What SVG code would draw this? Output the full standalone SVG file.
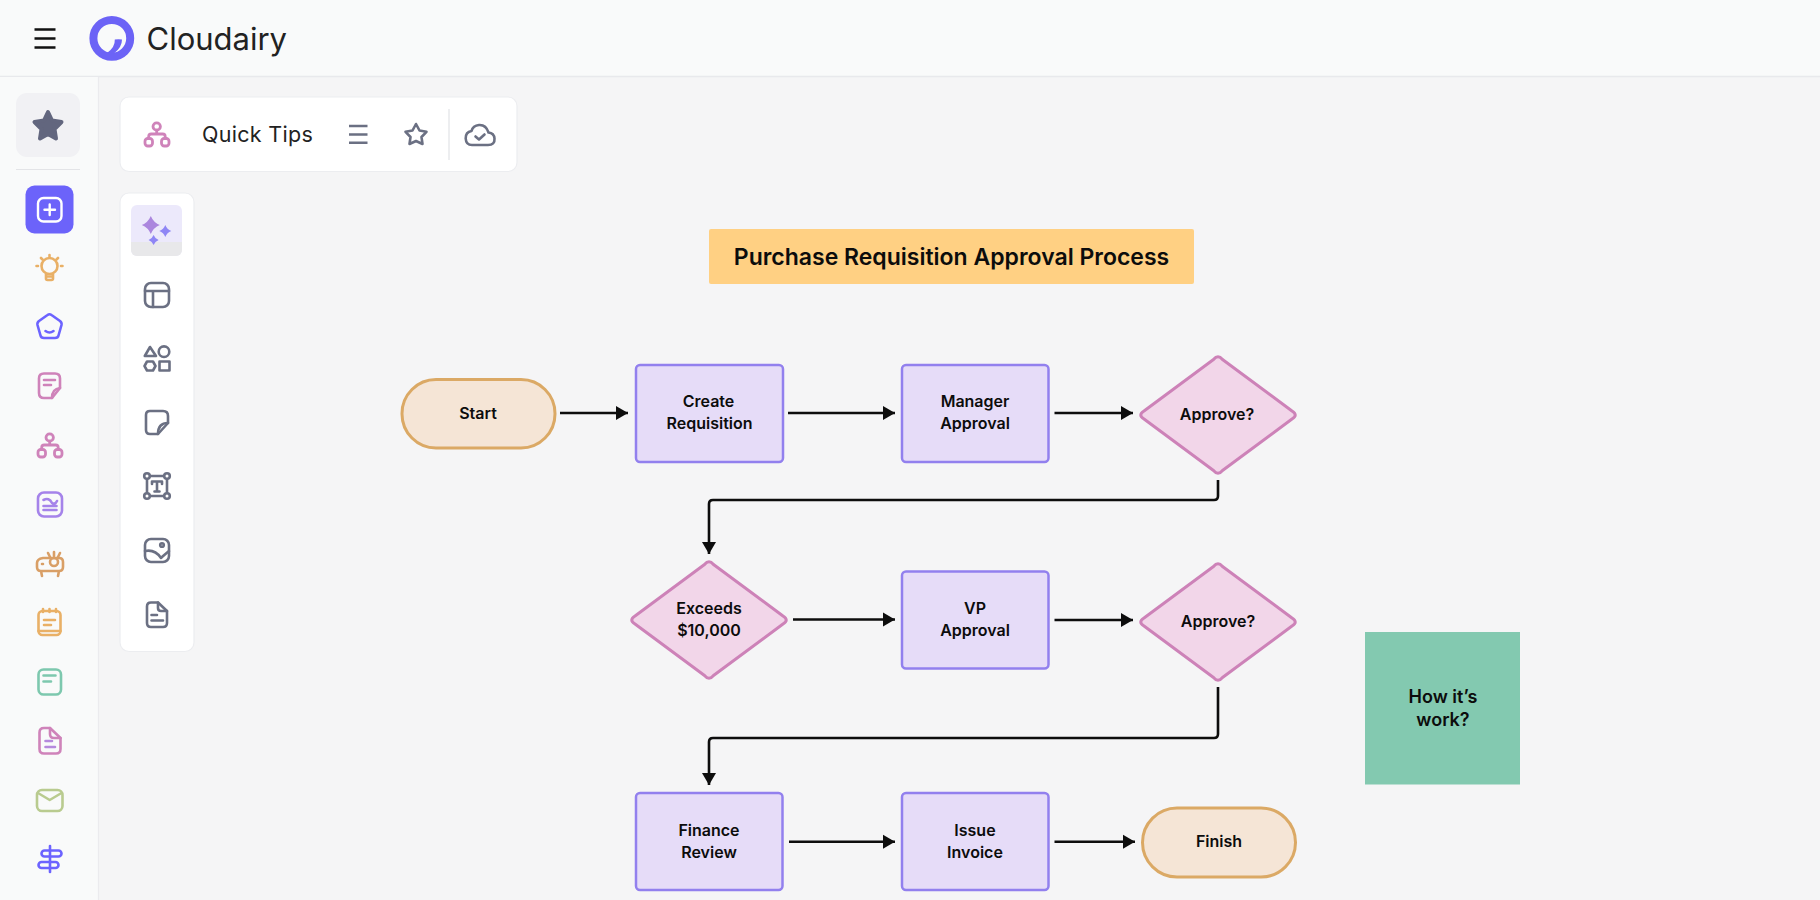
<svg xmlns="http://www.w3.org/2000/svg" width="1820" height="900" viewBox="0 0 1820 900">
<style>
text{font-family:"Inter","Liberation Sans",sans-serif;fill:#0c0c0c}
.n{font-size:16px;font-weight:600;text-anchor:middle}
.proc{fill:#e6dcf8;stroke:#9280ee;stroke-width:2.5}
.dec{fill:#f2d6e9;stroke:#cd82b8;stroke-width:3;stroke-linejoin:round}
.term{fill:#f5e5d6;stroke:#dba965;stroke-width:3}
.c{fill:none;stroke:#0d0d0d;stroke-width:2.6;stroke-linejoin:round;marker-end:url(#ah)}
.i{fill:none;stroke-width:2.6;stroke-linecap:round;stroke-linejoin:round}
.g{stroke:#6b7083}.pu{stroke:#6c63ff}.pk{stroke:#cf83ba}.vi{stroke:#a583ea}.or{stroke:#e9b066}
</style>
<defs>
<marker id="ah" markerUnits="userSpaceOnUse" markerWidth="13" markerHeight="15" refX="12" refY="7.500" orient="auto"><path d="M0 0.500L12 7.500L0 14.500Z" fill="#0d0d0d"/></marker>
<g id="org" stroke-width="2.800"><circle cx="12.700" cy="4.500" r="3.700"/><rect x="1" y="16.500" width="7.500" height="7.500" rx="2.800"/><rect x="17.500" y="16.500" width="7.500" height="7.500" rx="2.800"/><path d="M12.700 8.200V12M4.700 16.500V14.500Q4.700 12 7.200 12H18.700Q21.200 12 21.200 14.500V16.500"/></g>
<path id="dia" d="M-4.500 -55.500Q0 -61 4.500 -55.500L74 -4Q80.500 0 74 4L4.500 55.500Q0 61 -4.500 55.500L-74 4Q-80.500 0 -74 -4Z"/>
</defs>
<rect width="1820" height="900" fill="#f5f5f6"/>
<g id="topbar">
<rect width="1820" height="76" fill="#f9fafa"/>
<path d="M0 76.500H1820" stroke="#e8e9ec" stroke-width="1.500"/>
<path d="M34.500 29.500H55.500M34.500 38.500H55.500M34.500 47.500H55.500" stroke="#111" stroke-width="2.400"/>
<circle cx="111.800" cy="38.300" r="18.400" fill="none" stroke="#6c63f6" stroke-width="8"/>
<path d="M114.800 39.500Q118.500 38.800 122 39.500Q122 47 114.500 53L107 53Q115.300 47 114.800 39.500Z" fill="#6c63f6"/>
<text x="146.500" y="50" font-size="31" style="fill:#222">Cloudairy</text>
</g>
<g id="sidebar">
<rect y="77" width="98" height="823" fill="#f9fafa"/>
<path d="M98.500 77V900" stroke="#ebebee" stroke-width="1.200"/>
<rect x="16" y="93" width="64" height="64" rx="11" fill="#f1f1f4"/>
<path d="M48 112L52 120.500L61.500 122L54.500 129L56 138.500L48 134L40 138.500L41.500 129L34.500 122L44 120.500Z" fill="#62667e" stroke="#62667e" stroke-width="4" stroke-linejoin="round"/>
<path d="M16 169.500H80" stroke="#e3e4e7" stroke-width="1.200"/>
<rect x="25.500" y="185.500" width="48" height="48" rx="9" fill="#6c63fa"/>
<rect x="38" y="198" width="23.500" height="23.500" rx="5.500" fill="none" stroke="#fff" stroke-width="2.400"/>
<path d="M49.700 204.500V215M44.500 209.700H55" stroke="#fff" stroke-width="2.400" stroke-linecap="round"/>
<g class="i or"><circle cx="49.500" cy="266" r="8"/><path d="M46 274V278.500Q46 280 47.500 280H51.500Q53 280 53 278.500V274M46.500 276.500H52.500M49.500 255V256.500M38 266H36.500M62.500 266H61M41 258L42.500 259.500M58 258L56.500 259.500"/></g>
<g class="i pu"><path d="M47.500 315Q49.500 313.500 51.500 315L60 321Q62 322.500 61.500 325L58.500 335.500Q58 338 55 338H44Q41 338 40.500 335.500L37.500 325Q37 322.500 39 321Z"/><path d="M45.500 331Q49.500 334 53.500 331"/></g>
<g class="i pk"><path d="M44 373.500H55Q60 373.500 60 378.500V388L52 398H44Q39 398 39 393V378.500Q39 373.500 44 373.500Z"/><path d="M44 380H55M44 385H51M52 398Q52 389 60 388"/></g>
<use href="#org" x="37" y="433" class="i pk"/>
<g class="i vi"><rect x="38" y="492.500" width="24" height="24" rx="6"/><path d="M43.500 500Q49 497 52 503Q55 505 57 501M43.500 506H56.500M43.500 510H56.500"/></g>
<g class="i" stroke="#d99f66"><path d="M43 558H59Q63 558 63 562V567Q63 571 59 571H41Q37 571 37 567V563Q37 559 43 558ZM41 571L42 576M59 571L58 576"/><circle cx="54" cy="562" r="4"/><path d="M54 552V556M48 553L50 557M60 553L58 557M42 564H43"/></g>
<g class="i or"><rect x="38.500" y="611" width="22" height="24" rx="4"/><path d="M43 609V612M49.500 609V612M56 609V612M44 620H55M44 625H51M38.500 631H60.500"/></g>
<g class="i" stroke="#7dc8ae"><rect x="38.500" y="669.500" width="22.500" height="25" rx="5"/><path d="M43.500 675.500H55.500M43.500 681.500H51"/></g>
<g class="i pk"><path d="M44 728H50L60.500 738V749Q60.500 753.500 56 753.500H44Q39.500 753.500 39.500 749V732.500Q39.500 728 44 728Z"/><path d="M50 728V734Q50 738 54 738H60.500"/><path d="M45.500 741H52M45.500 747H55" stroke="#b589dd"/></g>
<g class="i" stroke="#b9cb8f"><rect x="37" y="790" width="25.500" height="21" rx="5"/><path d="M38 793L49.700 800L61.500 793"/></g>
<g class="i pu"><path d="M50 846V872"/><rect x="41.500" y="850.500" width="20" height="6" rx="3"/><rect x="38.500" y="862" width="20" height="6" rx="3"/></g>
</g>
<g id="quick-tips">
<rect x="120" y="97" width="397" height="74.500" rx="9" fill="#fff" stroke="#ecedf0" stroke-width="1.200"/>
<use href="#org" x="144" y="122" class="i pk"/>
<text x="202" y="142" font-size="21.500" letter-spacing=".3" style="fill:#222">Quick Tips</text>
<path d="M349 126H367.500M349 134.500H367.500M349 142.800H367.500" stroke="#6b7083" stroke-width="2.400"/>
<path d="M416 124L419.500 130.500L426.500 131.800L421.500 137L422.500 144L416 141L409.500 144L410.500 137L405.500 131.800L412.500 130.500Z" class="i g"/>
<path d="M449 109V160" stroke="#e6e7ea" stroke-width="1.400"/>
<path d="M472 145H488Q495 145 494.500 138.500Q494 133 488.500 132.500Q486 124.500 479 125Q473 125.500 471.500 131Q465.500 132 465.700 138.500Q466 145 472 145Z" class="i g"/>
<path d="M475.500 136.500L479 139.500L484.500 134.500" class="i g"/>
</g>
<g id="tools">
<rect x="120" y="193" width="74" height="458.500" rx="9" fill="#fff" stroke="#ecedf0" stroke-width="1.200"/>
<rect x="131" y="205" width="51" height="51" rx="6" fill="#ece9fb"/>
<path d="M131 242H182V250A6 6 0 0 1 176 256H137A6 6 0 0 1 131 250Z" fill="#e8e8ea"/>
<path d="M150.800 216Q153.500 222.500 159.800 225Q153.500 227.500 150.800 234Q148.100 227.500 141.800 225Q148.100 222.500 150.800 216Z" fill="#ab86de"/>
<path d="M165.300 225Q167 229.300 171.300 231Q167 232.700 165.300 237Q163.600 232.700 159.300 231Q163.600 229.300 165.300 225Z" fill="#8f86f5"/>
<path d="M153.600 235Q155 238.600 158.600 240Q155 241.400 153.600 245Q152.200 241.400 148.600 240Q152.200 238.600 153.600 235Z" fill="#8f86f5"/>
<g class="i g">
<rect x="145" y="283" width="24" height="24" rx="6"/><path d="M145 291H169M153 291V307"/>
<path d="M150 347L156 356H144.800Z"/><circle cx="164" cy="351.700" r="5.300"/><path d="M147 361.500H153L155.500 366L153 370.500H147L144.500 366Z"/><rect x="159.500" y="361.500" width="10" height="9"/>
<path d="M150 411H163Q168 411 168 416V423L158 434H150Q146 434 146 430V415Q146 411 150 411Z"/><path d="M158 434Q158 423 168 423"/>
<rect x="147" y="476" width="20" height="20" rx="1"/><circle cx="147" cy="476" r="2.800" fill="#fff"/><circle cx="167" cy="476" r="2.800" fill="#fff"/><circle cx="147" cy="496" r="2.800" fill="#fff"/><circle cx="167" cy="496" r="2.800" fill="#fff"/><path d="M152 484V481.500H162V484M157 481.500V491.500M154.500 491.500H159.500"/>
<rect x="145" y="539" width="24" height="23" rx="6"/><circle cx="162" cy="545" r="1.800"/><path d="M145 551Q155 549 161 558Q163 556 169 551"/>
<path d="M151 602.500H158L167 611V623Q167 627 163 627H151Q147 627 147 623V606.500Q147 602.500 151 602.500Z"/><path d="M158 602.500V608Q158 611 161 611H167M151.500 615H157M151.500 620.500H163"/>
</g>
</g>
<g id="connectors">
<path class="c" d="M560 413H628"/>
<path class="c" d="M788 413H895"/>
<path class="c" d="M1054.500 413H1133"/>
<path class="c" d="M1218 480V496Q1218 500 1214 500H713Q709 500 709 504V554"/>
<path class="c" d="M793 619.500H895"/>
<path class="c" d="M1054.500 620H1133"/>
<path class="c" d="M1218 687V734Q1218 738 1214 738H713Q709 738 709 742V785"/>
<path class="c" d="M789 841.700H895"/>
<path class="c" d="M1054.500 841.700H1135"/>
</g>
<g id="title"><rect x="709" y="229" width="485" height="55" rx="2" fill="#ffd083"/><text x="951.500" y="265" font-size="23" font-weight="600" text-anchor="middle">Purchase Requisition Approval Process</text></g>
<g id="start"><rect x="402" y="379.500" width="153" height="68.500" rx="34" class="term"/><text class="n" x="478" y="419">Start</text></g>
<g id="create"><rect x="636" y="365" width="147" height="97" rx="4" class="proc"/><text class="n" x="708.500" y="407">Create</text><text class="n" x="709.500" y="429">Requisition</text></g>
<g id="manager"><rect x="902" y="365" width="146.500" height="97" rx="4" class="proc"/><text class="n" x="975" y="407">Manager</text><text class="n" x="975" y="429">Approval</text></g>
<g id="approve1"><use href="#dia" x="1218" y="415" class="dec"/><text class="n" x="1217" y="419.500">Approve?</text></g>
<g id="exceeds"><use href="#dia" x="709" y="620" class="dec"/><text class="n" x="709" y="613.500">Exceeds</text><text class="n" x="709" y="635.500">$10,000</text></g>
<g id="vp"><rect x="902" y="571.500" width="146.500" height="97" rx="4" class="proc"/><text class="n" x="975" y="614">VP</text><text class="n" x="975" y="636">Approval</text></g>
<g id="approve2"><use href="#dia" x="1218" y="622" class="dec"/><text class="n" x="1218" y="626.500">Approve?</text></g>
<g id="finance"><rect x="636" y="793" width="146.500" height="97" rx="4" class="proc"/><text class="n" x="709" y="835.500">Finance</text><text class="n" x="709" y="857.500">Review</text></g>
<g id="issue"><rect x="902" y="793" width="146.500" height="97" rx="4" class="proc"/><text class="n" x="975" y="835.500">Issue</text><text class="n" x="975" y="857.500">Invoice</text></g>
<g id="finish"><rect x="1142.500" y="808" width="153" height="69" rx="34.500" class="term"/><text class="n" x="1219" y="847">Finish</text></g>
<g id="how"><rect x="1365" y="632" width="155" height="152.500" fill="#83c9b0"/><text class="n" x="1443" y="702.500" style="font-size:18px">How it’s</text><text class="n" x="1443" y="726" style="font-size:18px">work?</text></g>
</svg>
